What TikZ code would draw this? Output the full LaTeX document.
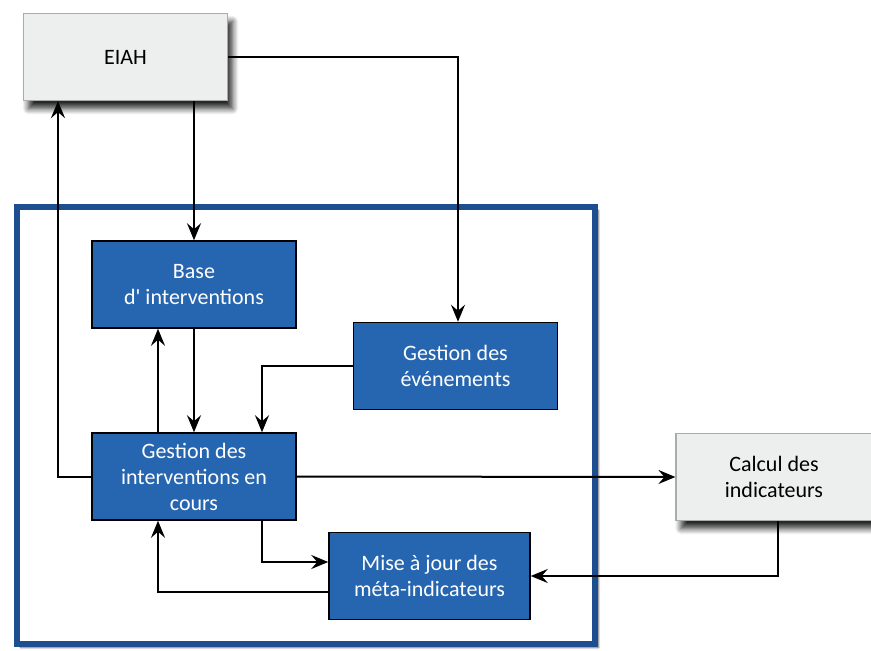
\documentclass[tikz,border=0pt]{standalone}
\usepackage{fontspec}
\setmainfont{Carlito}
\usetikzlibrary{arrows.meta,positioning,shadows.blur}
\definecolor{boxblue}{RGB}{38,102,176}
\definecolor{frameblue}{RGB}{29,78,143}
\definecolor{boxgray}{RGB}{237,238,238}
\definecolor{edgegray}{RGB}{170,172,172}
\tikzset{
  block/.style={draw=black, line width=1.5pt, minimum height=87pt, minimum width=204pt, align=center, fill=boxblue, text=white, font=\fontsize{22}{26}\selectfont},
  io/.style={draw=edgegray, line width=1.2pt, minimum height=87pt, minimum width=204pt, align=center, fill=boxgray, font=\fontsize{22}{26}\selectfont, blur shadow={shadow xshift=5pt, shadow yshift=-8pt, shadow blur steps=10, shadow blur radius=6pt, shadow opacity=85}},
  frame/.style={draw=frameblue, line width=6pt, fill=white, minimum width=578pt, minimum height=437pt, blur shadow={shadow xshift=4pt, shadow yshift=-4pt, shadow blur steps=6, shadow opacity=60}},
  line/.style={-{Stealth[length=17pt, width=14pt, inset=6pt]}, line width=2pt}
}
\begin{document}
\begin{tikzpicture}[x=1pt, y=-1pt]
  \useasboundingbox (0,0) rectangle (871,651);
  \node[frame] (sys) at (305.5,425) {};
  \node[io] (eiah) at (125.5,57) {EIAH};
  \node[block] (base) at (194,284.5) {Base\\d\textquotesingle{} interventions};
  \node[block] (evts) at (455.5,366) {Gestion des\\événements};
  \node[block] (interv) at (194,476.5) {Gestion des\\interventions en\\cours};
  \node[block, minimum width=201pt] (maj) at (429.5,576) {Mise à jour des\\méta-indicateurs};
  \node[io, minimum width=196pt] (calc) at (774,477) {Calcul des\\indicateurs};

  \draw[line] (eiah.east) -| ([xshift=2.5pt]evts.north);
  \draw[line] (base.north |- eiah.south) -- (base.north);
  \draw[line] (base.south) -- (interv.north);
  \draw[line] ([xshift=-36pt]interv.north) -- ([xshift=-36pt]base.south);
  \draw[line] (evts.west) -| ([xshift=68pt]interv.north);
  \draw[line] (interv.east) -- (calc.west);
  \draw[line] ([xshift=4pt]calc.south) |- (maj.east);
  \draw[line] ([xshift=68pt]interv.south) |- ([yshift=14pt]maj.west);
  \draw[line] ([yshift=-16pt]maj.west) -| ([xshift=-36pt]interv.south);
  \draw[line] (interv.west) -| ([xshift=-67.5pt]eiah.south);
\end{tikzpicture}
\end{document}
